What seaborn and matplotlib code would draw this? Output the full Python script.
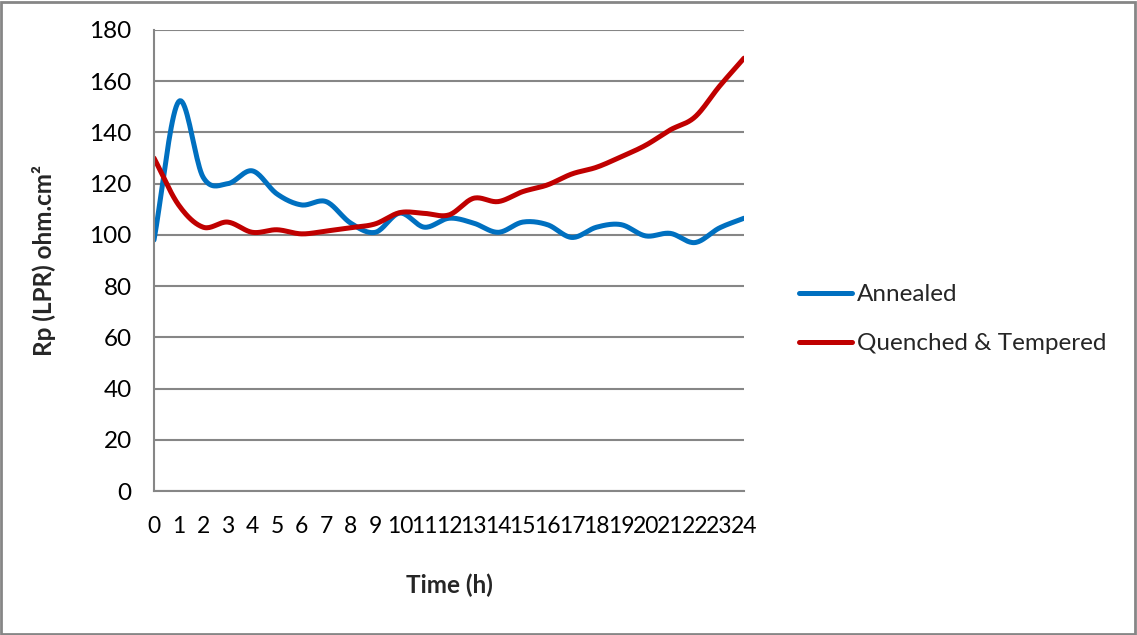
import numpy as np
import pandas as pd
import matplotlib
matplotlib.use("Agg")
import matplotlib.pyplot as plt
import seaborn as sns
from matplotlib.patches import Rectangle

hours = list(range(0, 25))
annealed = [98, 152, 122.5, 120, 125, 116, 111.7, 113, 104.6, 101, 108.5, 103, 106.5,
            104.6, 101, 105, 104, 99, 103, 104, 99.6, 100.6, 97, 102.7, 106.5]
quenched = [130, 111.7, 103, 105, 101, 102, 100.4, 101.5, 102.8, 104.3, 108.7, 108.4, 107.8,
            114.3, 113, 116.9, 119.5, 123.8, 126.4, 130.5, 135, 141, 146, 158, 169]
series_names = ["Annealed", "Quenched & Tempered"]
colors = ["#0070C0", "#C00000"]
y_ticks = list(range(0, 181, 20))


def smooth(x, y, n=20):
    # Catmull-Rom style display smoothing (like a spreadsheet "smoothed line")
    x = np.asarray(x, float)
    y = np.asarray(y, float)
    px = np.concatenate([[2 * x[0] - x[1]], x, [2 * x[-1] - x[-2]]])
    py = np.concatenate([[2 * y[0] - y[1]], y, [2 * y[-1] - y[-2]]])
    xs, ys = [], []
    t = np.linspace(0, 1, n, endpoint=False)
    for i in range(1, len(px) - 2):
        p0x, p1x, p2x, p3x = px[i - 1:i + 3]
        p0y, p1y, p2y, p3y = py[i - 1:i + 3]
        c1x, c1y = p1x + (p2x - p0x) / 6, p1y + (p2y - p0y) / 6
        c2x, c2y = p2x - (p3x - p1x) / 6, p2y - (p3y - p1y) / 6
        bx = (1 - t) ** 3 * p1x + 3 * (1 - t) ** 2 * t * c1x + 3 * (1 - t) * t ** 2 * c2x + t ** 3 * p2x
        by = (1 - t) ** 3 * p1y + 3 * (1 - t) ** 2 * t * c1y + 3 * (1 - t) * t ** 2 * c2y + t ** 3 * p2y
        xs.append(bx)
        ys.append(by)
    xs.append([x[-1]])
    ys.append([y[-1]])
    return np.concatenate(xs), np.concatenate(ys)


frames = []
for name, vals in zip(series_names, [annealed, quenched]):
    sx, sy = smooth(hours, vals)
    frames.append(pd.DataFrame({"Time": sx, "Rp": sy, "Series": name}))
df = pd.concat(frames, ignore_index=True)

sns.set_theme(style="white")
plt.rcParams["font.family"] = ["Lato", "DejaVu Sans"]

FS = 17.5
fig = plt.figure(figsize=(11.37, 6.35), dpi=100)
ax = fig.add_axes([154 / 1137, 1 - 491 / 635, (744 - 154) / 1137, (491 - 30) / 635])

sns.lineplot(data=df, x="Time", y="Rp", hue="Series", palette=colors,
             hue_order=series_names, sort=False, estimator=None, linewidth=3.6,
             ax=ax, legend=True)

ax.set_xlim(0, 24)
ax.set_ylim(0, 180)
ax.set_yticks(y_ticks)
ax.set_xticks(hours)
ax.set_xticklabels([str(h) for h in hours], family=["Liberation Sans Narrow", "Lato"],
                   fontsize=16.5)
ax.yaxis.grid(True, color="#868686", linewidth=1.5)
ax.xaxis.grid(False)
for s in ["top", "right"]:
    ax.spines[s].set_visible(False)
for s in ["left", "bottom"]:
    ax.spines[s].set_color("#868686")
    ax.spines[s].set_linewidth(1.5)
ax.tick_params(axis="both", which="both", length=6, width=1.2, color="#868686",
               labelcolor="black", direction="out")
ax.tick_params(axis="y", labelsize=FS, pad=10)
ax.tick_params(axis="x", pad=12)

ax.set_xlabel("Time (h)", fontsize=FS, fontweight="bold", labelpad=26)
ax.set_ylabel("Rp (LPR) ohm.cm²", fontsize=FS, fontweight="bold", labelpad=24)

leg = ax.legend(loc="center left", bbox_to_anchor=(1.056, 0.373), frameon=False,
                fontsize=FS, handlelength=2.2, handletextpad=0.2, labelspacing=1.15)
for line in leg.get_lines():
    line.set_linewidth(3.6)

fig.patches.append(Rectangle((0.001, 0.002), 0.997, 0.995, transform=fig.transFigure,
                             fill=False, edgecolor="#868686", linewidth=2))

fig.savefig("out.png", dpi=100)
